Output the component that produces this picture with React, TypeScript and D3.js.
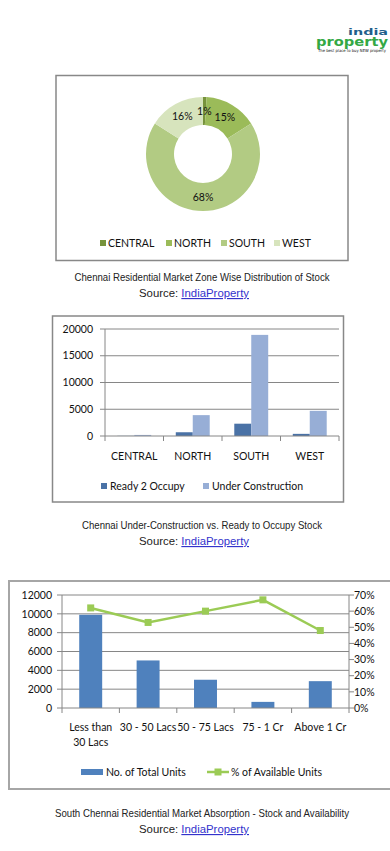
import React from "react";
import * as d3 from "d3";

// zone split of stock (percent)
const zoneNames = ["CENTRAL", "NORTH", "SOUTH", "WEST"];
const zoneShare = [1, 15, 68, 16];
const zoneColors = ["#77933C", "#9BBB59", "#B2CB83", "#D7E4BD"];

// ready vs under construction
const readyToOccupy = [30, 700, 2300, 400];
const underConstruction = [200, 3900, 18900, 4700];
const stockTicks = [0, 5000, 10000, 15000, 20000];

// south chennai absorption
const priceBands = ["Less than 30 Lacs", "30 - 50 Lacs", "50 - 75 Lacs", "75 - 1 Cr", "Above 1 Cr"];
const priceBandLines = [["Less than", "30 Lacs"], ["30 - 50 Lacs"], ["50 - 75 Lacs"], ["75 - 1 Cr"], ["Above 1 Cr"]];
const totalUnits = [9900, 5050, 3000, 650, 2850];
const availableShare = [0.62, 0.53, 0.6, 0.67, 0.48];
const unitTicks = [0, 2000, 4000, 6000, 8000, 10000, 12000];
const pctTicks = [0, 0.1, 0.2, 0.3, 0.4, 0.5, 0.6, 0.7];

const FONT = "Lato, 'Open Sans', sans-serif";
const CAPTION_FONT = "'Liberation Sans Narrow', 'Arial Narrow', 'Liberation Sans', sans-serif";
const GRID = "#868686";

const Caption: React.FC<{ y: number; title: string; width: number }> = ({ y, title, width }) => (
  <g fontFamily={CAPTION_FONT} fontSize={11.5} textAnchor="middle">
    <text x={202} y={y} fill="#222" textLength={width} lengthAdjust="spacingAndGlyphs">
      {title}
    </text>
    <text x={194} y={y + 16} fill="#222" textLength={110} lengthAdjust="spacingAndGlyphs">
      Source: <tspan fill="#3333CC" textDecoration="underline">IndiaProperty</tspan>
    </text>
  </g>
);

const Donut: React.FC = () => {
  const cx = 203;
  const cy = 154;
  const pie = d3.pie<number>().sort(null).value((d) => d);
  const arcs = pie(zoneShare);
  const arc = d3.arc<d3.PieArcDatum<number>>().innerRadius(29).outerRadius(57);
  const legendX = [100, 166, 221, 274];
  return (
    <g>
      <rect x={56} y={75.5} width={292} height={185} fill="#fff" stroke="#888" strokeWidth={1.5} />
      <g transform={`translate(${cx},${cy})`}>
        {arcs.map((a, i) => (
          <path key={i} d={arc(a) || ""} fill={zoneColors[i]} />
        ))}
        {arcs.map((a, i) => {
          const [lx, ly] = arc.centroid(a);
          return (
            <text key={i} x={lx} y={ly} dy="0.35em" textAnchor="middle" fontFamily={FONT} fontSize={10.5} fill="#111">
              {zoneShare[i]}%
            </text>
          );
        })}
      </g>
      {zoneNames.map((n, i) => (
        <g key={n} fontFamily={FONT} fontSize={10.5}>
          <rect x={legendX[i]} y={240} width={6} height={6} fill={zoneColors[i]} />
          <text x={legendX[i] + 8} y={243} dy="0.35em" fill="#111">
            {n}
          </text>
        </g>
      ))}
    </g>
  );
};

const StockBars: React.FC = () => {
  const x0 = d3.scaleBand<string>().domain(zoneNames).range([105, 339]);
  const bw = x0.bandwidth();
  const x1 = d3.scaleBand<string>().domain(["ready", "under"]).range([bw * 0.21, bw * 0.79]);
  const y = d3.scaleLinear().domain([0, 20000]).range([436, 329]);
  const colors = { ready: "#4A72A6", under: "#97AED6" };
  const edges = zoneNames.map((z) => x0(z) as number).concat([339]);
  return (
    <g fontFamily={FONT} fontSize={10.5} fill="#111">
      <rect x={52.5} y={316} width={291} height={186} fill="#fff" stroke="#888" strokeWidth={1.5} />
      {stockTicks.map((t) => (
        <g key={t}>
          {t > 0 && <line x1={105} x2={339} y1={y(t)} y2={y(t)} stroke={GRID} strokeWidth={1} />}
          <line x1={100} x2={105} y1={y(t)} y2={y(t)} stroke={GRID} />
          <text x={93} y={y(t)} dy="0.35em" textAnchor="end">
            {t}
          </text>
        </g>
      ))}
      {zoneNames.map((z, i) => (
        <g key={z}>
          <rect
            x={(x0(z) as number) + (x1("ready") as number)}
            y={y(readyToOccupy[i])}
            width={x1.bandwidth()}
            height={y(0) - y(readyToOccupy[i])}
            fill={colors.ready}
          />
          <rect
            x={(x0(z) as number) + (x1("under") as number)}
            y={y(underConstruction[i])}
            width={x1.bandwidth()}
            height={y(0) - y(underConstruction[i])}
            fill={colors.under}
          />
          <text x={(x0(z) as number) + bw / 2} y={456} dy="0.35em" textAnchor="middle">
            {z}
          </text>
        </g>
      ))}
      <line x1={105} x2={105} y1={329} y2={436} stroke={GRID} />
      <line x1={105} x2={339} y1={436} y2={436} stroke={GRID} />
      {edges.map((e, i) => (
        <line key={i} x1={e} x2={e} y1={436} y2={441} stroke={GRID} />
      ))}
      <rect x={101} y={483} width={6} height={6} fill={colors.ready} />
      <text x={110} y={486} dy="0.35em">
        Ready 2 Occupy
      </text>
      <rect x={203} y={483} width={6} height={6} fill={colors.under} />
      <text x={212} y={486} dy="0.35em">
        Under Construction
      </text>
    </g>
  );
};

const Absorption: React.FC = () => {
  const x = d3.scaleBand<string>().domain(priceBands).range([62, 349]);
  const bw = x.bandwidth();
  const yL = d3.scaleLinear().domain([0, 12000]).range([708, 595]);
  const yR = d3.scaleLinear().domain([0, 0.7]).range([708, 595]);
  const line = d3
    .line<number>()
    .x((_, i) => (x(priceBands[i]) as number) + bw / 2)
    .y((d) => yR(d));
  const edges = priceBands.map((p) => x(p) as number).concat([349]);
  const green = "#9BCB55";
  return (
    <g fontFamily={FONT} fontSize={10.5} fill="#111">
      <rect x={9} y={581} width={390} height={208} fill="#fff" stroke="#A6A6A6" strokeWidth={2} />
      {unitTicks.map((t) => (
        <g key={t}>
          {t > 0 && <line x1={62} x2={349} y1={yL(t)} y2={yL(t)} stroke={GRID} />}
          <line x1={57} x2={62} y1={yL(t)} y2={yL(t)} stroke={GRID} />
          <text x={52} y={yL(t)} dy="0.35em" textAnchor="end">
            {t}
          </text>
        </g>
      ))}
      {pctTicks.map((t) => (
        <g key={t}>
          <line x1={349} x2={354} y1={yR(t)} y2={yR(t)} stroke={GRID} />
          <text x={354} y={yR(t)} dy="0.35em">
            {Math.round(t * 100)}%
          </text>
        </g>
      ))}
      {priceBands.map((p, i) => (
        <rect
          key={p}
          x={(x(p) as number) + bw * 0.3}
          y={yL(totalUnits[i])}
          width={bw * 0.4}
          height={yL(0) - yL(totalUnits[i])}
          fill="#4F81BD"
        />
      ))}
      <line x1={62} x2={62} y1={595} y2={708} stroke={GRID} />
      <line x1={349} x2={349} y1={595} y2={708} stroke={GRID} />
      <line x1={62} x2={349} y1={708} y2={708} stroke={GRID} />
      {edges.map((e, i) => (
        <line key={i} x1={e} x2={e} y1={708} y2={713} stroke={GRID} />
      ))}
      <path d={line(availableShare) || ""} fill="none" stroke={green} strokeWidth={2.5} />
      {availableShare.map((v, i) => (
        <rect
          key={i}
          x={(x(priceBands[i]) as number) + bw / 2 - 3.5}
          y={yR(v) - 3.5}
          width={7}
          height={7}
          fill={green}
        />
      ))}
      {priceBandLines.map((lines, i) => (
        <text key={i} x={(x(priceBands[i]) as number) + bw / 2} y={727} dy="0.35em" textAnchor="middle">
          {lines.map((l, j) => (
            <tspan key={j} x={(x(priceBands[i]) as number) + bw / 2} dy={j === 0 ? "0.35em" : "15"}>
              {l}
            </tspan>
          ))}
        </text>
      ))}
      <rect x={81} y={769} width={22} height={6} fill="#4F81BD" />
      <text x={106} y={772} dy="0.35em">
        No. of Total Units
      </text>
      <line x1={207} x2={229} y1={772} y2={772} stroke={green} strokeWidth={2.5} />
      <rect x={214.5} y={768.5} width={7} height={7} fill={green} />
      <text x={231} y={772} dy="0.35em">
        % of Available Units
      </text>
    </g>
  );
};

const Logo: React.FC = () => (
  <g fontFamily="'DejaVu Sans', sans-serif" fontWeight="bold">
    <text x={348} y={35} fill="#1F5F8B" fontSize={9} textLength={40} lengthAdjust="spacingAndGlyphs">
      india
    </text>
    <text x={316} y={46} fill="#33A844" fontSize={12} textLength={72} lengthAdjust="spacingAndGlyphs">
      property
    </text>
    <text x={318} y={52} fill="#111" fontSize={4} fontWeight="normal" textLength={68} lengthAdjust="spacingAndGlyphs">
      The best place to buy NEW property
    </text>
  </g>
);

const App: React.FC = () => (
  <svg
    width={390}
    height={851}
    viewBox="0 0 390 851"
    style={{ position: "absolute", left: 0, top: 0, background: "#fff" }}
  >
    <rect width={390} height={851} fill="#fff" />
    <Logo />
    <Donut />
    <Caption y={281} title="Chennai Residential Market Zone Wise Distribution of Stock" width={255} />
    <StockBars />
    <Caption y={529} title="Chennai Under-Construction vs. Ready to Occupy Stock" width={240} />
    <Absorption />
    <Caption y={817} title="South Chennai Residential Market Absorption - Stock and Availability" width={294} />
  </svg>
);

export default App;
